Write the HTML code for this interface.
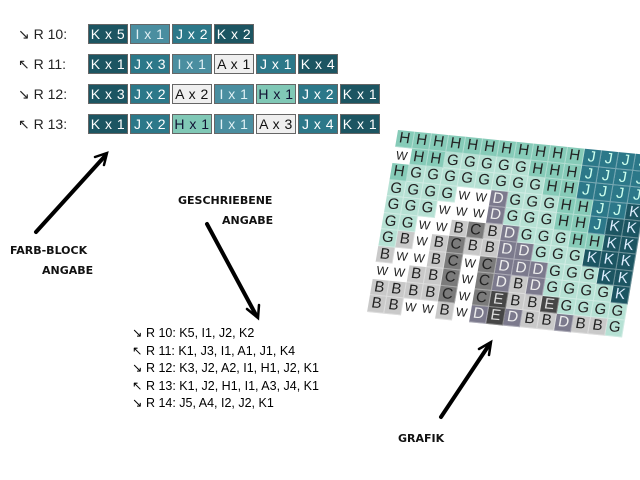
<!DOCTYPE html>
<html><head><meta charset="utf-8"><style>
body{margin:0;width:640px;height:480px;background:#fff;position:relative;overflow:hidden;font-family:"Liberation Sans",sans-serif}
.row{position:absolute;left:18px;height:20px;display:flex;align-items:center}
.lab{width:70px;font-size:14px;color:#222}
.b{width:38px;height:18px;margin-right:2px;border:1px solid #666;color:#fff;font-size:14px;text-align:center;line-height:18px;letter-spacing:.5px}
.K{background:#1c5562}.J{background:#2c7889}.I{background:#4a8ea0;color:#e0f0f4}.A{background:#efefef;color:#111}.Hb{background:#80c8b6;color:#113}
.lbl{position:absolute;font-family:"DejaVu Sans",sans-serif;font-weight:bold;font-size:11px;color:#111}
.list{position:absolute;left:132px;top:325px;font-size:12.5px;line-height:17.5px;color:#000}
.grid{position:absolute;left:398px;top:130px;width:255px;transform:matrix(1,0.1,-0.17,1,0,0);transform-origin:0 0;display:grid;grid-template-columns:repeat(15,17px);grid-auto-rows:16.5px;font-size:15px}
.grid i{font-style:normal;text-align:center;line-height:16.5px;border-right:1px solid rgba(255,255,255,.35);border-bottom:1px solid rgba(255,255,255,.35);color:#222}
.grid .H{background:#86cbb8}.grid .G{background:#b6e1d4}.grid .J{background:#2c7889;color:#cfe}.grid .K{background:#1c5562;color:#def}
.grid .W{background:#fff;font-size:12px}.grid .B{background:#c9c9c9}.grid .C{background:#7b7b7b}.grid .D{background:#7c7a8d;color:#eee}.grid .E{background:#464646;color:#ddd}
</style></head><body>
<div class="row" style="top:24px"><span class="lab">↘ R 10:</span><span class="b K">K x 5</span><span class="b I">I x 1</span><span class="b J">J x 2</span><span class="b K">K x 2</span></div>
<div class="row" style="top:54px"><span class="lab">↖ R 11:</span><span class="b K">K x 1</span><span class="b J">J x 3</span><span class="b I">I x 1</span><span class="b A">A x 1</span><span class="b J">J x 1</span><span class="b K">K x 4</span></div>
<div class="row" style="top:84px"><span class="lab">↘ R 12:</span><span class="b K">K x 3</span><span class="b J">J x 2</span><span class="b A">A x 2</span><span class="b I">I x 1</span><span class="b Hb">H x 1</span><span class="b J">J x 2</span><span class="b K">K x 1</span></div>
<div class="row" style="top:114px"><span class="lab">↖ R 13:</span><span class="b K">K x 1</span><span class="b J">J x 2</span><span class="b Hb">H x 1</span><span class="b I">I x 1</span><span class="b A">A x 3</span><span class="b J">J x 4</span><span class="b K">K x 1</span></div>

<svg width="640" height="480" style="position:absolute;left:0;top:0" viewBox="0 0 640 480">
<g stroke="#000" stroke-width="4" fill="none" stroke-linecap="round">
<line x1="36" y1="232" x2="105" y2="156"/><polyline stroke-width="2.5" points="95,157 107,153 104,165"/>
<line x1="207" y1="224" x2="256" y2="315"/><polyline stroke-width="2.5" points="247,309 258,318 259,305"/>
<line x1="441" y1="417" x2="489" y2="345"/><polyline stroke-width="2.5" points="479,349 491,342 489,355"/>
</g></svg>

<div class="lbl" style="left:10px;top:244px">FARB-BLOCK</div>
<div class="lbl" style="left:42px;top:264px">ANGABE</div>
<div class="lbl" style="left:178px;top:194px">GESCHRIEBENE</div>
<div class="lbl" style="left:222px;top:214px">ANGABE</div>
<div class="lbl" style="left:398px;top:432px">GRAFIK</div>

<div class="list">↘ R 10: K5, I1, J2, K2<br>↖ R 11: K1, J3, I1, A1, J1, K4<br>↘ R 12: K3, J2, A2, I1, H1, J2, K1<br>↖ R 13: K1, J2, H1, I1, A3, J4, K1<br>↘ R 14: J5, A4, I2, J2, K1</div>

<div class="grid">
<i class="H">H</i><i class="H">H</i><i class="H">H</i><i class="H">H</i><i class="H">H</i><i class="H">H</i><i class="H">H</i><i class="H">H</i><i class="H">H</i><i class="H">H</i><i class="H">H</i><i class="J">J</i><i class="J">J</i><i class="J">J</i><i class="J">J</i>
<i class="W">W</i><i class="H">H</i><i class="H">H</i><i class="G">G</i><i class="G">G</i><i class="G">G</i><i class="G">G</i><i class="G">G</i><i class="H">H</i><i class="H">H</i><i class="H">H</i><i class="J">J</i><i class="J">J</i><i class="J">J</i><i class="J">J</i>
<i class="H">H</i><i class="G">G</i><i class="G">G</i><i class="G">G</i><i class="G">G</i><i class="G">G</i><i class="G">G</i><i class="G">G</i><i class="G">G</i><i class="H">H</i><i class="H">H</i><i class="J">J</i><i class="J">J</i><i class="J">J</i><i class="J">J</i>
<i class="G">G</i><i class="G">G</i><i class="G">G</i><i class="G">G</i><i class="W">W</i><i class="W">W</i><i class="D">D</i><i class="G">G</i><i class="G">G</i><i class="G">G</i><i class="H">H</i><i class="H">H</i><i class="J">J</i><i class="J">J</i><i class="K">K</i>
<i class="G">G</i><i class="G">G</i><i class="G">G</i><i class="W">W</i><i class="W">W</i><i class="W">W</i><i class="D">D</i><i class="G">G</i><i class="G">G</i><i class="G">G</i><i class="H">H</i><i class="H">H</i><i class="J">J</i><i class="K">K</i><i class="K">K</i>
<i class="G">G</i><i class="G">G</i><i class="W">W</i><i class="W">W</i><i class="B">B</i><i class="C">C</i><i class="B">B</i><i class="D">D</i><i class="G">G</i><i class="G">G</i><i class="G">G</i><i class="H">H</i><i class="H">H</i><i class="K">K</i><i class="K">K</i>
<i class="G">G</i><i class="B">B</i><i class="W">W</i><i class="B">B</i><i class="C">C</i><i class="B">B</i><i class="B">B</i><i class="D">D</i><i class="D">D</i><i class="G">G</i><i class="G">G</i><i class="G">G</i><i class="K">K</i><i class="K">K</i><i class="K">K</i>
<i class="B">B</i><i class="W">W</i><i class="W">W</i><i class="B">B</i><i class="C">C</i><i class="W">W</i><i class="C">C</i><i class="D">D</i><i class="D">D</i><i class="D">D</i><i class="G">G</i><i class="G">G</i><i class="G">G</i><i class="K">K</i><i class="K">K</i>
<i class="W">W</i><i class="W">W</i><i class="B">B</i><i class="B">B</i><i class="C">C</i><i class="W">W</i><i class="C">C</i><i class="D">D</i><i class="B">B</i><i class="D">D</i><i class="G">G</i><i class="G">G</i><i class="G">G</i><i class="G">G</i><i class="K">K</i>
<i class="B">B</i><i class="B">B</i><i class="B">B</i><i class="B">B</i><i class="C">C</i><i class="W">W</i><i class="C">C</i><i class="E">E</i><i class="B">B</i><i class="B">B</i><i class="E">E</i><i class="G">G</i><i class="G">G</i><i class="G">G</i><i class="G">G</i>
<i class="B">B</i><i class="B">B</i><i class="W">W</i><i class="W">W</i><i class="B">B</i><i class="W">W</i><i class="D">D</i><i class="E">E</i><i class="D">D</i><i class="B">B</i><i class="B">B</i><i class="D">D</i><i class="B">B</i><i class="B">B</i><i class="G">G</i>
</div>
</body></html>
